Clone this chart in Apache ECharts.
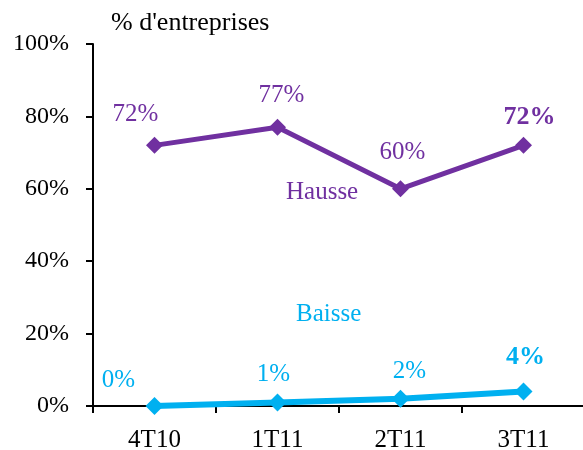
<!DOCTYPE html>
<html>
<head>
<meta charset="utf-8">
<script src="https://cdn.jsdelivr.net/npm/echarts@6/dist/echarts.min.js"></script>
<style>
html,body{margin:0;padding:0;background:#fff;}
#chart{width:583px;height:450px;}
</style>
</head>
<body>
<div id="chart"></div>
<script>
// Trimestres et parts d'entreprises (%)
var categories = ['4T10', '1T11', '2T11', '3T11'];
var hausse = [72, 77, 60, 72];
var baisse = [0, 1, 2, 4];
var yTicks = [0, 20, 40, 60, 80, 100];

var PURPLE = '#7030A0';
var BLUE = '#00B0F0';
var FONT = '"Liberation Serif", "Times New Roman", serif';

// label placement per point: [offsetX, offsetY, bold]
var hausseLbl = [[-19, -5, false], [4, -6, false], [2, -10, false], [6, -2, true]];
var baisseLbl = [[-36, 1, false], [-4, -1, false], [9, -1, false], [2, -7, true]];

function buildData(vals, lbl, color) {
  return vals.map(function (v, i) {
    return {
      value: v,
      label: {
        show: true,
        position: 'top',
        offset: [lbl[i][0], lbl[i][1]],
        formatter: v + '%',
        color: color,
        fontFamily: FONT,
        fontSize: lbl[i][2] ? 26 : 25,
        fontWeight: lbl[i][2] ? 'bold' : 'normal'
      }
    };
  });
}

var chart = echarts.init(document.getElementById('chart'));
chart.setOption({
  animation: false,
  backgroundColor: '#fff',
  title: {
    text: "% d'entreprises",
    left: 106,
    top: 5,
    textStyle: { fontFamily: FONT, fontSize: 26, fontWeight: 'normal', color: '#000' }
  },
  grid: { left: 93, right: -2, top: 44, bottom: 44, containLabel: false, outerBoundsMode: 'none' },
  xAxis: {
    type: 'category',
    data: categories,
    boundaryGap: true,
    axisLine: { lineStyle: { color: '#000', width: 2 } },
    axisTick: { show: true, length: 7, lineStyle: { color: '#000', width: 2 } },
    axisLabel: { color: '#000', fontFamily: FONT, fontSize: 25, margin: 22 },
    splitLine: { show: false }
  },
  yAxis: {
    type: 'value',
    min: yTicks[0],
    max: yTicks[yTicks.length - 1],
    interval: 20,
    axisLine: { show: true, lineStyle: { color: '#000', width: 2 } },
    axisTick: { show: true, length: 7, lineStyle: { color: '#000', width: 2 } },
    axisLabel: { color: '#000', fontFamily: FONT, fontSize: 24, margin: 24, formatter: '{value}%' },
    splitLine: { show: false }
  },
  graphic: [
    { type: 'text', left: 286, top: 180, style: { text: 'Hausse', fill: PURPLE, font: '25px ' + FONT } },
    { type: 'text', left: 296, top: 302, style: { text: 'Baisse', fill: BLUE, font: '25px ' + FONT } }
  ],
  series: [
    {
      name: 'Hausse',
      type: 'line',
      data: buildData(hausse, hausseLbl, PURPLE),
      symbol: 'diamond',
      symbolSize: 17,
      itemStyle: { color: PURPLE },
      lineStyle: { color: PURPLE, width: 5 },
      z: 3
    },
    {
      name: 'Baisse',
      type: 'line',
      data: buildData(baisse, baisseLbl, BLUE),
      symbol: 'diamond',
      symbolSize: 18,
      itemStyle: { color: BLUE },
      lineStyle: { color: BLUE, width: 6 },
      z: 4
    }
  ]
});
</script>
</body>
</html>
